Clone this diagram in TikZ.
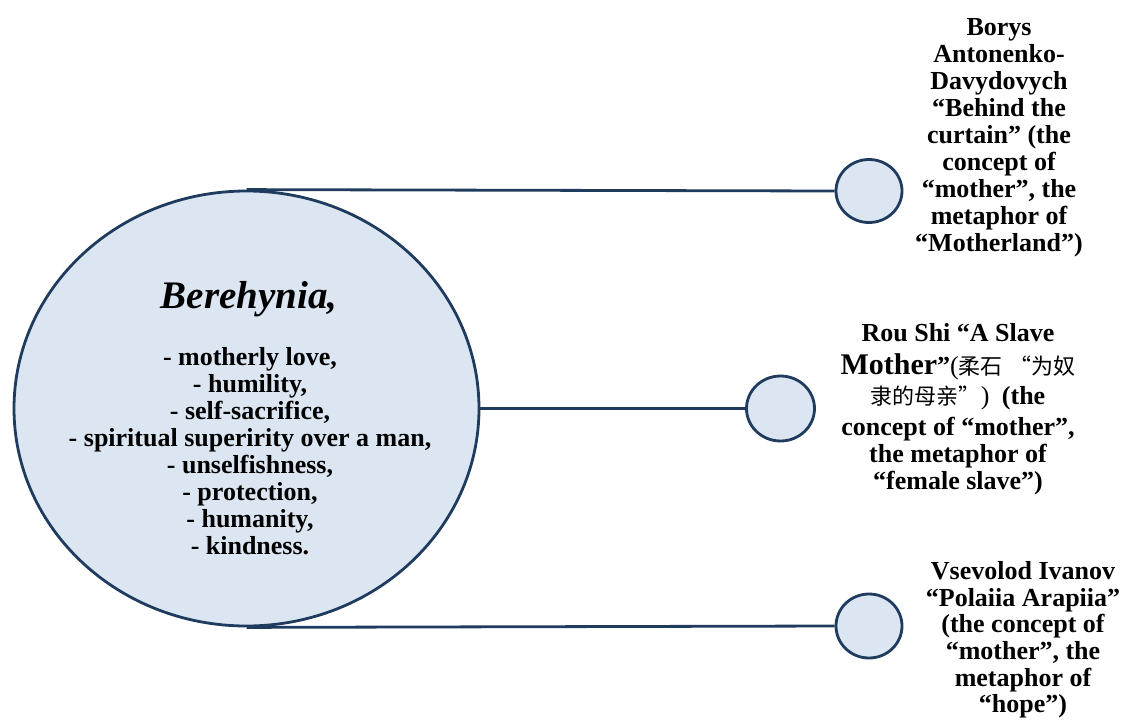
\documentclass[tikz,border=0pt]{standalone}
\usepackage{fontspec}
\setmainfont{Liberation Serif}
\newfontfamily\cjkfont{Noto Sans CJK SC}
\usetikzlibrary{shapes.geometric}
\definecolor{fillblue}{HTML}{DCE6F2}
\definecolor{navy}{HTML}{1F3B5E}
\newcommand{\cjktext}[1]{{\mdseries\cjkfont\fontsize{22}{22}\selectfont #1}}
\begin{document}
\begin{tikzpicture}[x=1pt,y=-1pt,
  bubble/.style={ellipse, draw=navy, fill=fillblue, line width=2.8pt, inner sep=0pt},
  link/.style={draw=navy, line width=2.8pt},
  lbl/.style={align=center, font=\fontsize{26}{27}\selectfont\bfseries, inner sep=0pt}]
\useasboundingbox (0,0) rectangle (1121,720);
\node[bubble, minimum width=465, minimum height=435] (main) at (246.5,408.5) {};
\node[bubble, minimum width=66, minimum height=63] (c1) at (869,191) {};
\node[bubble, minimum width=68, minimum height=65] (c2) at (780.5,408.5) {};
\node[bubble, minimum width=66, minimum height=64] (c3) at (869,626) {};
\draw[link] (main.north) -- (c1.west);
\draw[link] (main.east) -- (c2.west);
\draw[link] (main.south) -- (c3.west);
\node[lbl, font=\fontsize{39}{40}\selectfont\bfseries\itshape] (title) at (249,299) {Berehynia,};
\node[lbl] (list) at (250,451) {- motherly love,\\- humility,\\- self-sacrifice,\\- spiritual superirity over a man,\\- unselfishness,\\- protection,\\- humanity,\\- kindness.};
\node[lbl] (t1) at (999,138) {Borys\\Antonenko-\\Davydovych\\“Behind the\\curtain” (the\\concept of\\“mother”, the\\metaphor of\\“Motherland”)};
\node[lbl] (t2) at (958,409) {Rou Shi “A Slave\\[6pt]{\fontsize{30}{30}\selectfont Mother}”{\mdseries(}\cjktext{柔石} \cjktext{“为奴}\\[3pt]\cjktext{隶的母亲”}{\mdseries)}\hspace{6pt} (the\\[4pt]concept of “mother”,\\the metaphor of\\“female slave”)};
\node[lbl, font=\fontsize{26}{26.6}\selectfont\bfseries] (t3) at (1023,640) {Vsevolod Ivanov\\“Polaiia Arapiia”\\(the concept of\\“mother”, the\\metaphor of\\“hope”)};
\end{tikzpicture}
\end{document}
